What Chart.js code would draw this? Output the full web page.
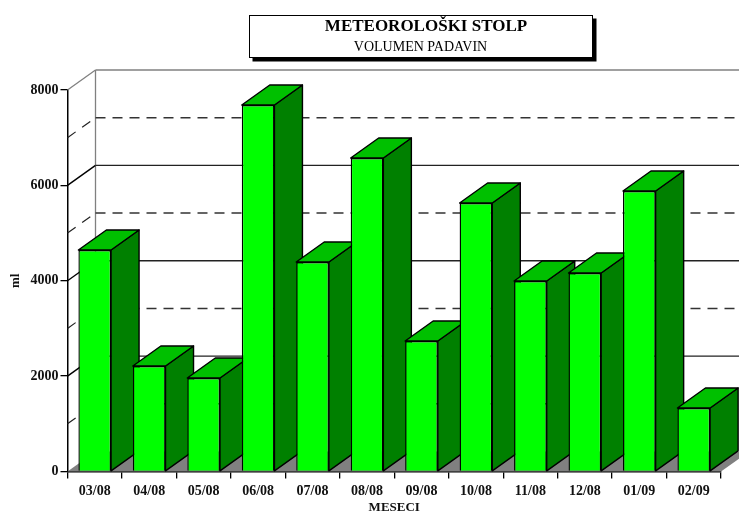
<!DOCTYPE html>
<html><head><meta charset="utf-8">
<style>html,body{margin:0;padding:0;background:#fff}canvas{display:block}</style>
<script src="https://cdn.jsdelivr.net/npm/chart.js@4"></script></head>
<body><canvas id="c" width="739" height="513"></canvas>
<script>
const categories=["03/08","04/08","05/08","06/08","07/08","08/08","09/08","10/08","11/08","12/08","01/09","02/09"];
const volumes=[4645,2212,1960,7685,4393,6574,2737,5630,3995,4162,5882,1331];
const titleText="METEOROLOŠKI STOLP";
const subtitleText="VOLUMEN PADAVIN";
const xTitle="MESECI";
const yTitle="ml";
const yTicks=[0,2000,4000,6000,8000];
const yMinorTicks=[1000,3000,5000,7000];
const depthX=28, depthY=-20;
const serif='"Liberation Serif","Times New Roman",serif';

function poly(ctx,pts,fill,stroke,w){
  ctx.beginPath();pts.forEach((p,i)=>i?ctx.lineTo(p[0],p[1]):ctx.moveTo(p[0],p[1]));ctx.closePath();
  if(fill){ctx.fillStyle=fill;ctx.fill();}
  if(stroke){ctx.strokeStyle=stroke;ctx.lineWidth=w||1;ctx.stroke();}
}
function line(ctx,x1,y1,x2,y2,color,w,dash){
  ctx.save();ctx.beginPath();ctx.setLineDash(dash||[]);ctx.strokeStyle=color;ctx.lineWidth=w||1;
  ctx.moveTo(x1,y1);ctx.lineTo(x2,y2);ctx.stroke();ctx.restore();
}
const threeD={
  id:'threeD',
  beforeDatasetsDraw(chart){
    const {ctx,chartArea:a,scales:{y}}=chart;
    const L=a.left,R=a.right,bx=L+depthX;
    const y0=y.getPixelForValue(0);
    poly(ctx,[[L,y0],[bx,y0+depthY],[R+depthX,y0+depthY],[R,y0]],'#808080');
    const yTop=y.getPixelForValue(8000);
    line(ctx,bx,yTop+depthY,R+depthX,yTop+depthY,'#808080',1.3);
    line(ctx,bx,yTop+depthY,bx,y0+depthY,'#808080',1.3);
    line(ctx,L,yTop,bx,yTop+depthY,'#808080',1.3);
    yMinorTicks.forEach(v=>{const p=y.getPixelForValue(v);
      line(ctx,L,p,bx,p+depthY,'#222',1.2,[10,8]);
      line(ctx,bx,p+depthY,R+depthX,p+depthY,'#333',1.4,[10,7]);});
    yTicks.filter(v=>v>0&&v<8000).forEach(v=>{const p=y.getPixelForValue(v);
      line(ctx,L,p,bx,p+depthY,'#000',1.4);
      line(ctx,bx,p+depthY,R+depthX,p+depthY,'#222',1.4);});
    ctx.save();ctx.lineJoin='round';
    chart.getDatasetMeta(0).data.forEach(b=>{
      const l=b.x-b.width/2,r=b.x+b.width/2,t=b.y,bt=b.base;
      poly(ctx,[[r,t],[r+depthX,t+depthY],[r+depthX,bt+depthY],[r,bt]],'#008000','#000',1.4);
      poly(ctx,[[l,t],[l+depthX,t+depthY],[r+depthX,t+depthY],[r,t]],'#00c000','#000',1.4);
    });
    ctx.restore();
  },
  afterDraw(chart){
    const {ctx}=chart;
    ctx.save();
    const bx=249.5,by=15.5,bw=343,bh=42;
    ctx.fillStyle='#000';ctx.fillRect(bx+3,by+3,bw+1,bh+1);
    ctx.fillStyle='#fff';ctx.fillRect(bx,by,bw,bh);
    ctx.strokeStyle='#000';ctx.lineWidth=1;ctx.strokeRect(bx,by,bw,bh);
    ctx.fillStyle='#000';ctx.textAlign='center';ctx.textBaseline='alphabetic';
    ctx.font='bold 17px '+serif;ctx.fillText(titleText,426,31);
    ctx.font='14px '+serif;ctx.fillText(subtitleText,420.5,51);
    ctx.restore();
  }
};
new Chart(document.getElementById('c'),{
  type:'bar',
  data:{labels:categories,datasets:[{data:volumes,backgroundColor:'#00ff00',borderColor:'#000',borderWidth:1.4,
    categoryPercentage:1,barPercentage:0.6}]},
  plugins:[threeD],
  options:{responsive:false,animation:false,
    layout:{padding:{left:0,top:90,right:18,bottom:0}},
    plugins:{legend:{display:false},tooltip:{enabled:false},title:{display:false}},
    scales:{
      x:{afterFit(s){s.height=41.5;},
        grid:{display:true,drawOnChartArea:false,drawTicks:true,tickLength:7,color:'#000',lineWidth:1.3,offset:true},
        border:{display:true,color:'#000',width:1.5},
        ticks:{color:'#111',font:{family:serif,weight:'bold',size:14},padding:4,maxRotation:0,autoSkip:false},
        title:{display:true,text:xTitle,color:'#111',font:{family:serif,weight:'bold',size:13,lineHeight:0.9},padding:{top:0,bottom:0}}},
      y:{min:0,max:8000,afterFit(s){s.width=67.5;},
        afterBuildTicks(s){s.ticks=yTicks.map(v=>({value:v}));},
        grid:{display:true,drawOnChartArea:false,drawTicks:true,tickLength:7,color:'#000',lineWidth:1.3},
        border:{display:true,color:'#000',width:1.5},
        ticks:{color:'#111',font:{family:serif,weight:'bold',size:14},padding:2,callback:v=>String(v)},
        title:{display:true,text:yTitle,color:'#111',font:{family:serif,weight:'bold',size:13},padding:{top:8,bottom:0}}}
    }
  }
});
</script></body></html>
